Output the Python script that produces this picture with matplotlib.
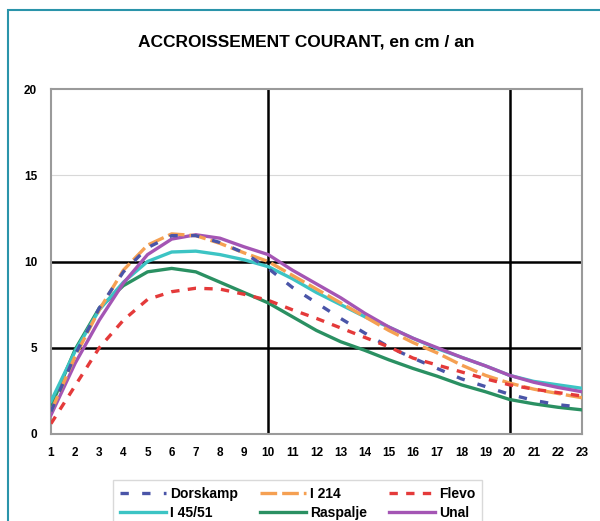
import numpy as np
import matplotlib.pyplot as plt
from matplotlib.patches import Rectangle

plt.rcParams['font.family'] = ['Liberation Sans', 'DejaVu Sans']

years = list(range(1, 24))

dorskamp = [1.3, 4.6, 7.3, 9.4, 10.8, 11.5, 11.5, 11.1, 10.5, 9.6, 8.5, 7.6,
            6.7, 5.85, 5.05, 4.4, 3.8, 3.2, 2.75, 2.3, 1.95, 1.7, 1.55]
i214 = [1.3, 4.5, 7.2, 9.5, 10.95, 11.6, 11.5, 11.05, 10.5, 10.0, 9.2, 8.4,
        7.6, 6.8, 6.0, 5.3, 4.7, 4.0, 3.4, 2.95, 2.6, 2.35, 2.1]
flevo = [0.6, 2.8, 5.0, 6.6, 7.8, 8.25, 8.45, 8.4, 8.1, 7.75, 7.2, 6.7,
         6.15, 5.6, 5.05, 4.4, 4.0, 3.6, 3.2, 2.85, 2.6, 2.4, 2.2]
i4551 = [1.9, 4.8, 7.2, 8.8, 10.0, 10.55, 10.6, 10.4, 10.1, 9.7, 9.0, 8.2,
         7.5, 6.8, 6.2, 5.55, 4.95, 4.45, 3.95, 3.4, 3.05, 2.85, 2.65]
raspalje = [1.6, 4.9, 7.3, 8.6, 9.4, 9.6, 9.4, 8.8, 8.2, 7.6, 6.8, 6.0,
            5.35, 4.85, 4.3, 3.8, 3.35, 2.85, 2.45, 2.0, 1.75, 1.55, 1.4]
unal = [1.1, 4.1, 6.6, 8.75, 10.4, 11.3, 11.55, 11.35, 10.85, 10.4, 9.5, 8.7,
        7.9, 7.0, 6.2, 5.55, 5.0, 4.45, 3.95, 3.4, 3.0, 2.7, 2.45]

fig = plt.figure(figsize=(6, 5.21), dpi=100)
ax = fig.add_axes([51/600, 1 - 434/521, 531/600, 345/521])

lw = 2.4
ax.plot(years, raspalje, color='#2a9062', lw=lw, label='Raspalje', zorder=3)
ax.plot(years, i4551, color='#3cc4c4', lw=lw, label='I 45/51', zorder=3)
ax.plot(years, unal, color='#a455b4', lw=lw, label='Unal', zorder=3)
ax.plot(years, i214, color='#f5a052', lw=lw, ls=(0, (5, 1.5)), label='I 214', zorder=4)
ax.plot(years, dorskamp, color='#4a55a8', lw=lw, ls=(0, (2.5, 4)), label='Dorskamp', zorder=5)
ax.plot(years, flevo, color='#e43a3a', lw=lw, ls=(0, (2.5, 2.5)), label='Flevo', zorder=5)

ax.set_xlim(1, 23)
ax.set_ylim(0, 20)
ax.set_xticks(years)
ax.set_yticks([0, 5, 10, 15, 20])
ax.tick_params(length=0, labelsize=8.5)
ax.tick_params(axis='x', pad=9)
ax.tick_params(axis='y', pad=10)
for t in ax.get_xticklabels() + ax.get_yticklabels():
    t.set_fontweight('bold')

ax.axhline(15, color='#d8d8d8', lw=0.8, zorder=1)
for v in [5, 10]:
    ax.axhline(v, color='black', lw=1.8, zorder=2)
for v in [10, 20]:
    ax.axvline(v, color='black', lw=1.8, zorder=2)
for s in ax.spines.values():
    s.set_color('#9a9a9a')
    s.set_linewidth(1.5)

fig.text(0.51, 1 - 42/521, 'ACCROISSEMENT COURANT, en cm / an', ha='center',
         va='center', fontsize=12.5, fontweight='bold')

# teal border round the figure
fig.patches.append(Rectangle((8/600, -0.1), 1.0, 1.1 - 10/521, transform=fig.transFigure,
                             fill=False, edgecolor='#2a94aa', lw=1.5))

order = ['Dorskamp', 'I 214', 'Flevo', 'I 45/51', 'Raspalje', 'Unal']
handles, labels = ax.get_legend_handles_labels()
lookup = dict(zip(labels, handles))
# matplotlib fills legend columns top to bottom
col_order = [order[0], order[3], order[1], order[4], order[2], order[5]]
leg = fig.legend([lookup[k] for k in col_order], col_order, ncol=3,
                 loc='upper left', bbox_to_anchor=(106/600, 1 - 473/521),
                 prop={'weight': 'bold', 'size': 10}, handlelength=3.3,
                 handletextpad=0.3, columnspacing=1.6, labelspacing=0.35,
                 borderpad=0.5, fancybox=False, edgecolor='#d0d0d0')
leg.get_frame().set_linewidth(1.0)

fig.savefig('out.png', dpi=100)
